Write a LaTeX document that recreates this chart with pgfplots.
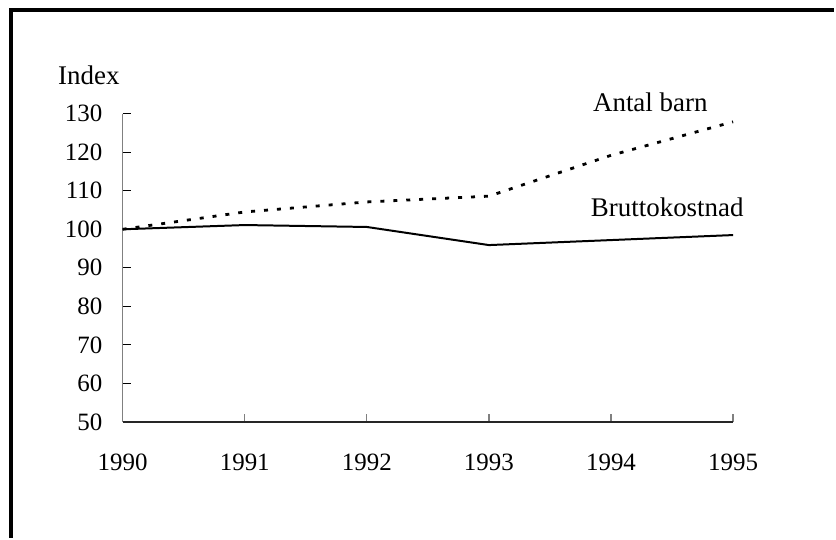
\documentclass[border=0pt]{standalone}
\usepackage{fontspec}
\setmainfont{Liberation Serif}
\usepackage{pgfplots}
\pgfplotsset{compat=1.18}

\begin{document}
\fontsize{12}{14}\selectfont
\begin{tikzpicture}
% page frame: 836x539 px at 0.5pt per px, axis origin at px (123,423)
\path (-61.5pt,-58pt) rectangle (356.5pt,211.5pt);
\draw[line width=2.2pt] (-56pt,-58pt) -- (-56pt,206.5pt) -- (356.5pt,206.5pt);
\begin{axis}[
  scale only axis,
  width=306pt, height=154.5pt,
  xmin=1990, xmax=1995,
  ymin=50, ymax=130,
  xtick={1990,1991,1992,1993,1994,1995},
  ytick={50,60,70,80,90,100,110,120,130},
  axis x line*=bottom,
  axis y line*=left,
  x axis line style={-, line width=0.8pt, black!85},
  y axis line style={-, line width=0.8pt, gray},
  xtick style={gray, line width=0.6pt},
  ytick style={black, line width=0.6pt},
  major tick length=4pt,
  tick align=inside,
  /pgf/number format/assume math mode=true,
  /pgf/number format/1000 sep={},
  tick label style={font=\fontsize{12.5}{14}\selectfont},
  xticklabel style={yshift=-12pt},
  yticklabel style={xshift=-6pt},
  clip=false,
]
\addplot[black, line width=1.4pt, dash pattern=on 2pt off 4.5pt] coordinates {
  (1990,100) (1991,104.5) (1992,107.1) (1993,108.6) (1994,119.2) (1995,127.9)
};
\addplot[black, line width=1pt] coordinates {
  (1990,100) (1991,101.1) (1992,100.6) (1993,95.9) (1994,97.2) (1995,98.5)
};
\end{axis}
\begin{scope}[font=\fontsize{13.5}{16}\selectfont]
\node[anchor=west, inner sep=0pt] at (-32.5pt,174pt) {Index};
\node[inner sep=0pt] at (264.5pt,160pt) {Antal barn};
\node[inner sep=0pt] at (273pt,107.5pt) {Bruttokostnad};
\end{scope}
\end{tikzpicture}
\end{document}
